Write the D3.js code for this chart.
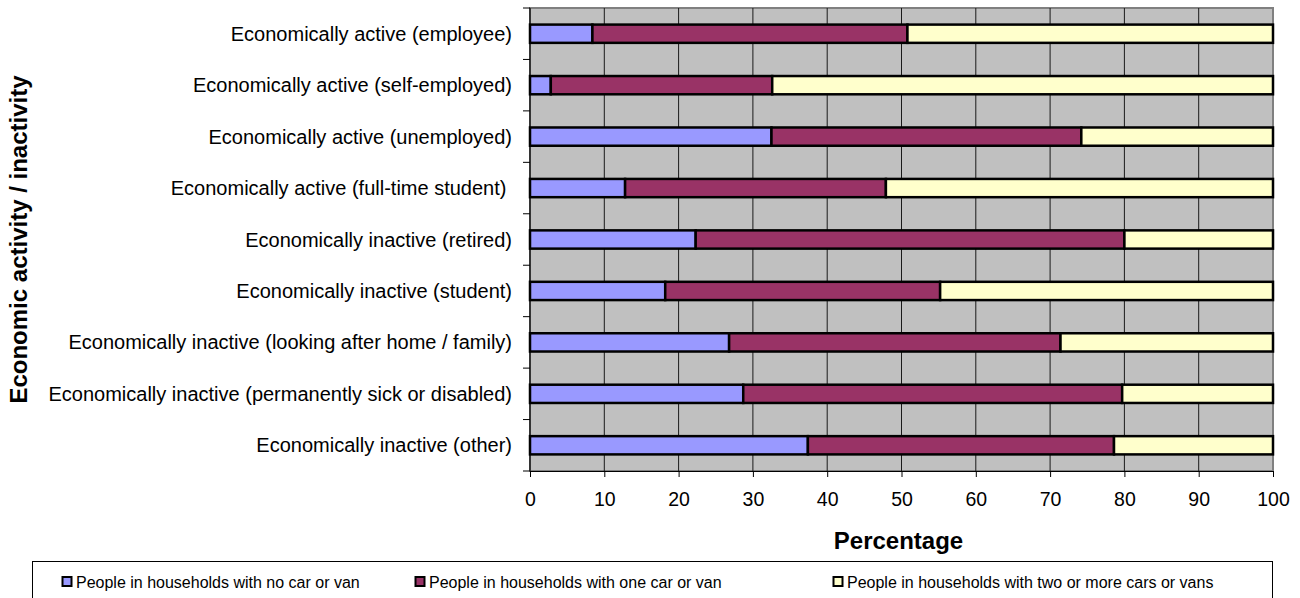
<!DOCTYPE html>
<html>
<head>
<meta charset="utf-8">
<script src="https://cdn.jsdelivr.net/npm/d3@7"></script>
<style>
  html, body { margin: 0; padding: 0; background: #fff; }
  svg { display: block; font-family: "Liberation Sans", Arial, sans-serif; }
</style>
</head>
<body>
<svg id="chart" width="1300" height="598"></svg>
<script>
// ---- data ----
const categories = [
  "Economically active (employee)",
  "Economically active (self-employed)",
  "Economically active (unemployed)",
  "Economically active (full-time student) ",
  "Economically inactive (retired)",
  "Economically inactive (student)",
  "Economically inactive (looking after home / family)",
  "Economically inactive (permanently sick or disabled)",
  "Economically inactive (other)"
];
const seriesNames = [
  "People in households with no car or van",
  "People in households with one car or van",
  "People in households with two or more cars or vans"
];
const noCar   = [8.4, 2.8, 32.5, 12.8, 22.3, 18.2, 26.8, 28.7, 37.4];
const oneCar  = [42.4, 29.8, 41.7, 35.1, 57.7, 37.0, 44.6, 51.0, 41.2];
const twoCars = [49.2, 67.4, 25.8, 52.1, 20.0, 44.8, 28.6, 20.3, 21.4];
const xTicks = [0, 10, 20, 30, 40, 50, 60, 70, 80, 90, 100];
const xTitle = "Percentage";
const yTitle = "Economic activity / inactivity";
const colors = ["#9999FF", "#993366", "#FFFFCC"];

// ---- layout ----
const svg = d3.select("#chart");
const L = 530, R = 1273, T = 8, B = 471;

const x = d3.scaleLinear().domain([0, 100]).range([L, R]);
const y = d3.scaleBand().domain(categories).range([T, B]).padding(0);

const rows = categories.map((c, i) => ({ cat: c, vals: [noCar[i], oneCar[i], twoCars[i]] }));
const stacked = d3.stack().keys([0, 1, 2]).value((d, k) => d.vals[k])(rows);

// plot background
svg.append("rect").attr("x", L).attr("y", T).attr("width", R - L).attr("height", B - T)
  .attr("fill", "#C0C0C0").attr("stroke", "#808080").attr("stroke-width", 2);

// vertical gridlines
svg.append("g").selectAll("line").data(xTicks.filter(t => t > 0 && t < 100)).join("line")
  .attr("x1", d => x(d)).attr("x2", d => x(d)).attr("y1", T).attr("y2", B)
  .attr("stroke", "#1a1a1a").attr("stroke-width", 1);

// bars
const barH = y.bandwidth() * 0.355;
svg.append("g").selectAll("g").data(stacked).join("g")
  .attr("fill", (d, i) => colors[i])
  .selectAll("rect").data(d => d).join("rect")
  .attr("x", d => x(d[0]))
  .attr("width", d => x(d[1]) - x(d[0]))
  .attr("y", d => y(d.data.cat) + (y.bandwidth() - barH) / 2)
  .attr("height", barH)
  .attr("stroke", "#000").attr("stroke-width", 2.5);

// x axis
const xAxis = d3.axisBottom(x).tickValues(xTicks).tickSize(6).tickPadding(15).tickSizeOuter(0);
const gx = svg.append("g").attr("transform", `translate(0,${B})`).call(xAxis);
gx.select(".domain").attr("stroke", "#000").attr("stroke-width", 1.2);
gx.selectAll(".tick line").attr("stroke", "#000");
gx.selectAll("text").attr("font-size", 19.5).attr("fill", "#000")
  .style("font-family", "'Liberation Sans', Arial, sans-serif");

// y axis: ticks at category boundaries
const yBound = d3.scaleLinear().domain([0, categories.length]).range([T, B]);
svg.append("line").attr("x1", L).attr("x2", L).attr("y1", T).attr("y2", B)
  .attr("stroke", "#000").attr("stroke-width", 1.2);
svg.append("g").selectAll("line").data(d3.range(categories.length + 1)).join("line")
  .attr("x1", L - 7).attr("x2", L).attr("y1", d => yBound(d)).attr("y2", d => yBound(d))
  .attr("stroke", "#000").attr("stroke-width", 1);

// category labels
svg.append("g").selectAll("text").data(categories).join("text")
  .attr("x", L - 18)
  .attr("y", d => y(d) + y.bandwidth() / 2)
  .attr("dy", "0.35em")
  .attr("text-anchor", "end")
  .attr("font-size", 20)
  .attr("fill", "#000")
  .style("white-space", "pre")
  .text(d => d);

// axis titles
svg.append("text").attr("x", (L + R) / 2 - 3).attr("y", 549)
  .attr("text-anchor", "middle").attr("font-size", 24).attr("font-weight", "bold")
  .text(xTitle);
svg.append("text")
  .attr("transform", `translate(27,${(T + B) / 2}) rotate(-90)`)
  .attr("text-anchor", "middle").attr("font-size", 24).attr("font-weight", "bold")
  .text(yTitle);

// legend
svg.append("rect").attr("x", 32.5).attr("y", 561.5).attr("width", 1240).attr("height", 60)
  .attr("fill", "#fff").attr("stroke", "#000").attr("stroke-width", 1);
const legendX = [62, 415, 833];
const lg = svg.append("g").selectAll("g").data(seriesNames).join("g")
  .attr("transform", (d, i) => `translate(${legendX[i]},582)`);
lg.append("rect").attr("x", 0.5).attr("y", -5).attr("width", 9).attr("height", 9)
  .attr("fill", (d, i) => colors[i]).attr("stroke", "#000").attr("stroke-width", 2);
lg.append("text").attr("x", 14).attr("y", 0).attr("dy", "0.35em")
  .attr("font-size", 16).attr("fill", "#000").text(d => d);
</script>
</body>
</html>
